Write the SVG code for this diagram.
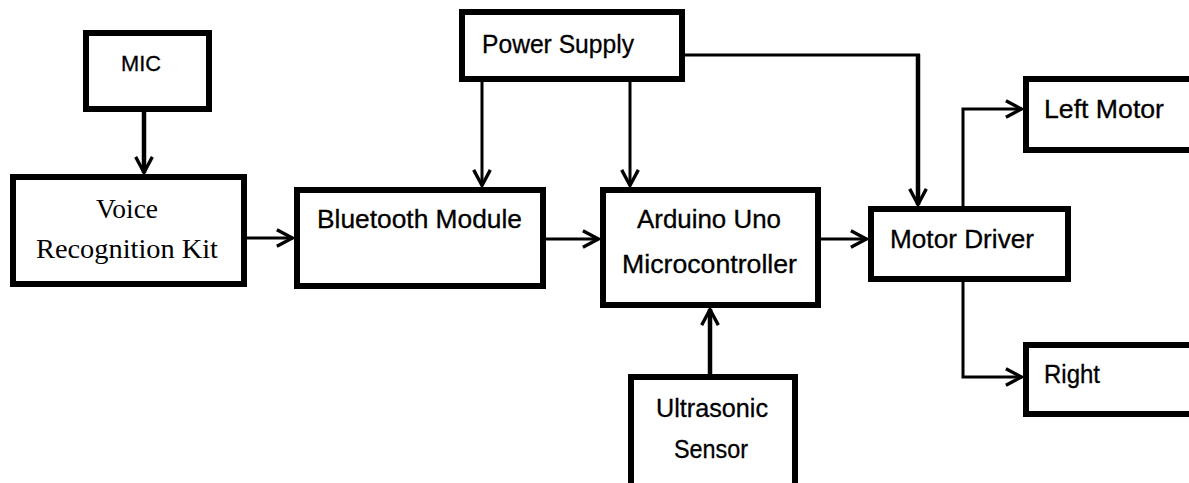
<svg xmlns="http://www.w3.org/2000/svg" width="1189" height="483" viewBox="0 0 1189 483">
<style>
.box{fill:#fff;stroke:#000;stroke-width:6}
.t{font-family:"Liberation Sans",Arial,sans-serif;font-size:25px;fill:#000;stroke:#000;stroke-width:0.3}
.s{font-family:"Liberation Serif","Times New Roman",serif;font-size:27px;fill:#000}
.c{fill:none;stroke:#000;stroke-width:3;marker-end:url(#arr)}
.l{fill:none;stroke:#000;stroke-width:3}
.ck{stroke-width:4.5}
</style>
<defs>
<marker id="arr" markerUnits="userSpaceOnUse" markerWidth="20" markerHeight="20" viewBox="0 0 17 18" refX="15.5" refY="9" orient="auto">
<path d="M1,1.5 L15,9 L1,16.5" fill="none" stroke="#000" stroke-width="3"/>
</marker>
</defs>
<rect width="1189" height="483" fill="#fff"/>
<g id="connectors">
<path class="c ck" d="M144,112 V173"/>
<path class="c" d="M247,238 H293"/>
<path class="c" d="M546,239 H599"/>
<path class="c" d="M482,82 V186"/>
<path class="c" d="M630,82 V186"/>
<path class="l" d="M685,55 H920"/>
<path class="c ck" d="M918,54 V205"/>
<path class="c" d="M821,239 H867"/>
<path class="c" d="M963,206 V109 H1022"/>
<path class="c" d="M963,282 V377 H1022"/>
<path class="c ck" d="M710,374 V309"/>
</g>
<g id="mic"><rect class="box" x="86" y="33" width="123" height="76"/><text class="t" x="121" y="71" textLength="40" lengthAdjust="spacingAndGlyphs" style="font-size:22px">MIC</text></g>
<g id="voice"><rect class="box" x="13" y="177" width="231" height="107"/><text class="s" x="96" y="218" textLength="62" lengthAdjust="spacingAndGlyphs">Voice</text><text class="s" x="36" y="258" textLength="182" lengthAdjust="spacingAndGlyphs">Recognition Kit</text></g>
<g id="power"><rect class="box" x="462" y="12" width="220" height="67"/><text class="t" x="482" y="53" textLength="152" lengthAdjust="spacingAndGlyphs">Power Supply</text></g>
<g id="bluetooth"><rect class="box" x="297" y="190" width="246" height="96"/><text class="t" x="317" y="228" textLength="205" lengthAdjust="spacingAndGlyphs">Bluetooth Module</text></g>
<g id="arduino"><rect class="box" x="603" y="190" width="215" height="115"/><text class="t" x="637" y="228" textLength="144" lengthAdjust="spacingAndGlyphs">Arduino Uno</text><text class="t" x="622" y="273" textLength="175" lengthAdjust="spacingAndGlyphs">Microcontroller</text></g>
<g id="motordriver"><rect class="box" x="871" y="209" width="197" height="70"/><text class="t" x="890" y="248" textLength="144" lengthAdjust="spacingAndGlyphs">Motor Driver</text></g>
<g id="leftmotor"><rect class="box" x="1026" y="79" width="180" height="71"/><text class="t" x="1044" y="118" textLength="120" lengthAdjust="spacingAndGlyphs">Left Motor</text></g>
<g id="right"><rect class="box" x="1026" y="345" width="180" height="69"/><text class="t" x="1044" y="383" textLength="56" lengthAdjust="spacingAndGlyphs">Right</text></g>
<g id="ultrasonic"><rect class="box" x="631" y="377" width="164" height="120"/><text class="t" x="656" y="417" textLength="112" lengthAdjust="spacingAndGlyphs">Ultrasonic</text><text class="t" x="674" y="458" textLength="74" lengthAdjust="spacingAndGlyphs">Sensor</text></g>
</svg>
